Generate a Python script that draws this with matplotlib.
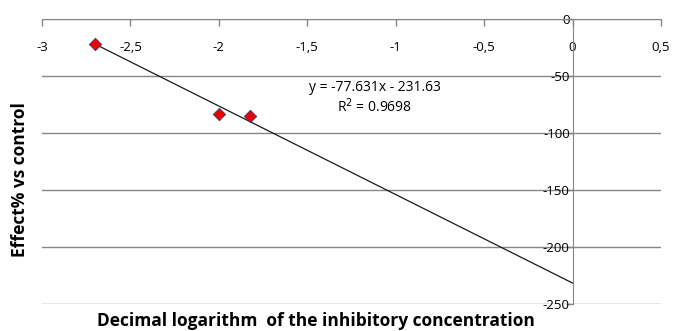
import numpy as np
import matplotlib
matplotlib.use('Agg')
import matplotlib.pyplot as plt
from matplotlib.ticker import FuncFormatter

# data
log_conc = [-2.699, -2.0, -1.824]
effect = [-22.0, -83.0, -85.0]
slope = -77.631
intercept = -231.63
r2 = 0.9698
xticks = [-3, -2.5, -2, -1.5, -1, -0.5, 0, 0.5]
yticks = [0, -50, -100, -150, -200, -250]

plt.rcParams['font.family'] = ['Open Sans', 'DejaVu Sans']

fig = plt.figure(figsize=(6.73, 3.31), dpi=100)
ax = fig.add_axes([42/673, 1 - 304/331, (661-42)/673, (304-19)/331])

gray = '#868686'
ax.set_xlim(-3, 0.5)
ax.set_ylim(-250, 0)
ax.set_yticks(yticks)
ax.set_xticks(xticks)
ax.yaxis.grid(True, color=gray, linewidth=1)
ax.set_axisbelow(True)

for s in ['top', 'right']:
    ax.spines[s].set_visible(False)
ax.spines['bottom'].set_position(('data', 0))
ax.spines['left'].set_position(('data', 0))
ax.spines['bottom'].set_color(gray)
ax.spines['left'].set_color(gray)
ax.tick_params(axis='both', colors=gray, labelcolor='black', labelsize=9.5,
               length=5, width=1, direction='out')
ax.tick_params(axis='x', pad=11)
ax.tick_params(axis='y', pad=-3)

fmt = FuncFormatter(lambda v, p: ('%g' % v).replace('.', ','))
ax.xaxis.set_major_formatter(fmt)
ax.yaxis.set_major_formatter(fmt)

# trendline
tx = np.array([log_conc[0], 0])
ax.plot(tx, slope * tx + intercept, color='#1a1a1a', linewidth=0.9, zorder=3)

ax.scatter(log_conc, effect, marker='D', s=40, color='#ee0000',
           edgecolors='#3a3a7a', linewidths=0.6, zorder=4)

ax.text(-1.12, -60.5, 'y = -77.631x - 231.63', ha='center', va='center', fontsize=10)
ax.text(-1.12, -76.5, 'R$^2$ = %.4f' % r2, ha='center', va='center', fontsize=10)

fig.text(20/673, 1 - 180/331, 'Effect% vs control', rotation=90, ha='center',
         va='center', fontsize=12.5, fontweight='bold')
fig.text(316/673, 1 - 321/331, 'Decimal logarithm  of the inhibitory concentration',
         ha='center', va='center', fontsize=12.5, fontweight='bold')

fig.savefig('out.png', dpi=100)
